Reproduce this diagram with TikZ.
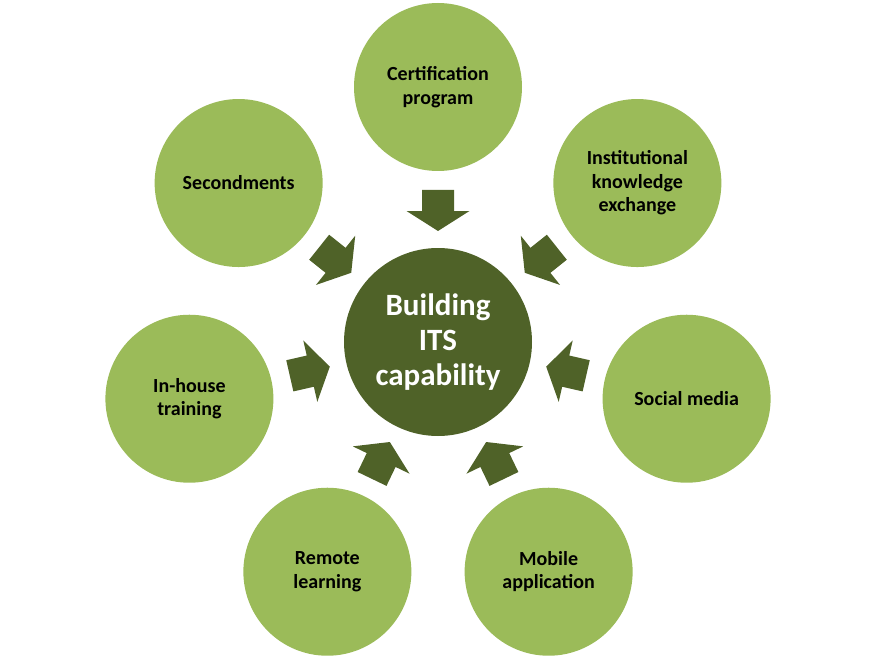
\documentclass[tikz,border=0pt]{standalone}
\usepackage{fontspec}
\setmainfont{Carlito}
\usetikzlibrary{positioning}
\definecolor{leafGreen}{RGB}{155,187,89}
\definecolor{oliveDark}{RGB}{79,98,40}

\begin{document}
\begin{tikzpicture}[x=1pt, y=1pt,
  hub/.style={circle, fill=oliveDark, minimum size=188pt, inner sep=0pt,
              align=center, text=white,
              font=\fontsize{31}{35}\selectfont\bfseries},
  spoke/.style={circle, fill=leafGreen, minimum size=168pt, inner sep=0pt,
                align=center, text=black,
                font=\fontsize{20}{23.5}\selectfont\bfseries},
  blockarr/.style={fill=oliveDark}
]
  \useasboundingbox (0,0) rectangle (876,-658);
  \node[hub] (hub) at (438,-342) {Building\\ITS\\capability};
  % outer ring, one circle every 360/7 degrees
  \foreach \k/\nm/\txt in {0/cert/{Certification\\program},
      1/inst/{Institutional\\knowledge\\exchange},
      2/social/{Social media},
      3/mobile/{Mobile\\application},
      4/remote/{Remote\\learning},
      5/inhouse/{In-house\\training},
      6/second/{Secondments}} {
    \pgfmathsetmacro\ang{90-\k*360/7}
    \node[spoke] (\nm) at ([shift={(\ang:255)}]hub.center) {\txt};
    \begin{scope}[shift={(hub.center)}, rotate=\ang]
      \fill[blockarr] (152,-16) -- (131,-16) -- (131,-31.5) -- (111,0)
        -- (131,31.5) -- (131,16) -- (152,16) -- cycle;
    \end{scope}
  }
\end{tikzpicture}
\end{document}
